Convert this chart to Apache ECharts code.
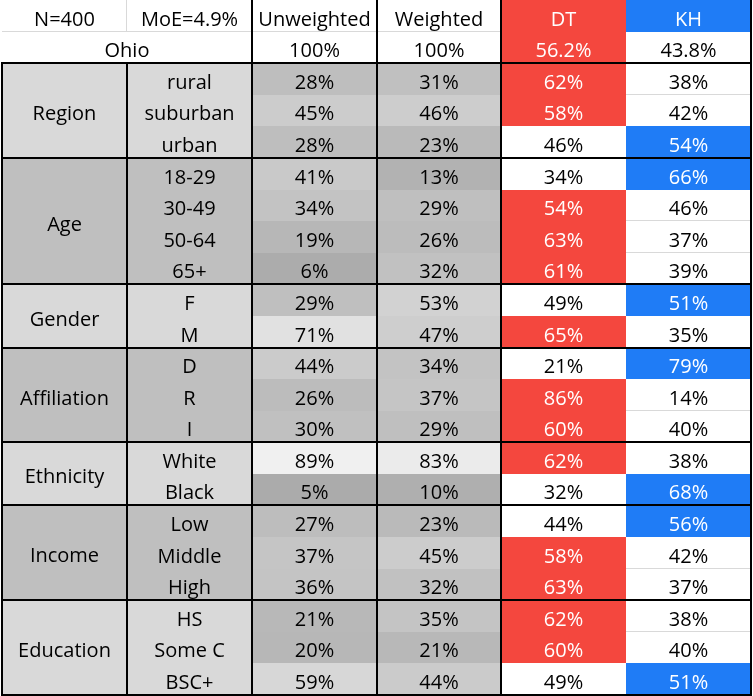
<!DOCTYPE html>
<html><head><meta charset="utf-8">
<script src="https://cdn.jsdelivr.net/npm/echarts@6/dist/echarts.min.js"></script>
<style>html,body{margin:0;padding:0;background:#fff}#c{width:753px;height:696px}</style>
</head><body><div id="c"></div><script>
// ---- data ----
const headerTop = ['N=400', 'MoE=4.9%', 'Unweighted', 'Weighted', 'DT', 'KH'];
const stateName = 'Ohio';
const totals = [100, 100, 56.2, 43.8];
const groups = ['Region', 'Age', 'Gender', 'Affiliation', 'Ethnicity', 'Income', 'Education'];
const subgroups = [
  ['rural', 'suburban', 'urban'],
  ['18-29', '30-49', '50-64', '65+'],
  ['F', 'M'],
  ['D', 'R', 'I'],
  ['White', 'Black'],
  ['Low', 'Middle', 'High'],
  ['HS', 'Some C', 'BSC+']
];
const unweighted = [28, 45, 28, 41, 34, 19, 6, 29, 71, 44, 26, 30, 89, 5, 27, 37, 36, 21, 20, 59];
const weighted   = [31, 46, 23, 13, 29, 26, 32, 53, 47, 34, 37, 29, 83, 10, 23, 45, 32, 35, 21, 44];
const dt         = [62, 58, 46, 34, 54, 63, 61, 49, 65, 21, 86, 60, 62, 32, 44, 58, 63, 62, 60, 49];
const kh         = [38, 42, 54, 66, 46, 37, 39, 51, 35, 79, 14, 40, 38, 68, 56, 42, 37, 38, 40, 51];

// ---- styles ----
const RED = '#F4473E', BLUE = '#1F7CF6', LIGHT = '#D9D9D9', DARK = '#BFBFBF', GRID = '#D9D9D9';
const FONT = '"Open Sans", "Noto Sans", sans-serif';
const FS = 20, TY = 4;

const nCols = 6;
const nRows = 2 + unweighted.length;
const fmt = v => (Number.isInteger(v) ? v : v.toFixed(1)) + '%';

// ---- build cell list ----
const cells = [];
headerTop.forEach((t, c) => {
  let fill = '#fff', color = '#000';
  if (c === 4) { fill = RED; color = '#fff'; }
  if (c === 5) { fill = BLUE; color = '#fff'; }
  cells.push({col: c, row: 0, cs: 1, rs: 1, fill, color, text: t, bottomGrid: c < 4, rightGrid: c === 0});
});
cells.push({col: 0, row: 1, cs: 2, rs: 1, fill: '#fff', color: '#000', text: stateName});
cells.push({col: 2, row: 1, cs: 1, rs: 1, fill: '#fff', color: '#000', text: fmt(totals[0])});
cells.push({col: 3, row: 1, cs: 1, rs: 1, fill: '#fff', color: '#000', text: fmt(totals[1])});
cells.push({col: 4, row: 1, cs: 1, rs: 1, fill: totals[2] > totals[3] ? RED : '#fff', color: totals[2] > totals[3] ? '#fff' : '#000', text: fmt(totals[2])});
cells.push({col: 5, row: 1, cs: 1, rs: 1, fill: totals[3] > totals[2] ? BLUE : '#fff', color: totals[3] > totals[2] ? '#fff' : '#000', text: fmt(totals[3])});

const groupEnds = [2];
let r = 2, idx = 0;
groups.forEach((g, gi) => {
  const subs = subgroups[gi];
  const fill = gi % 2 === 0 ? LIGHT : DARK;
  cells.push({col: 0, row: r, cs: 1, rs: subs.length, fill, color: '#000', text: g});
  subs.forEach((s, si) => {
    const row = r + si, i = idx + si;
    const last = si === subs.length - 1;
    cells.push({col: 1, row, cs: 1, rs: 1, fill, color: '#000', text: s});
    const dtWin = dt[i] > kh[i];
    const nextDtWhite = !last && !(dt[i + 1] > kh[i + 1]);
    const nextKhWhite = !last && !(kh[i + 1] > dt[i + 1]);
    cells.push({col: 4, row, cs: 1, rs: 1, fill: dtWin ? RED : '#fff', color: dtWin ? '#fff' : '#000', text: dt[i] + '%', bottomGrid: !dtWin && nextDtWhite});
    cells.push({col: 5, row, cs: 1, rs: 1, fill: !dtWin ? BLUE : '#fff', color: !dtWin ? '#fff' : '#000', text: kh[i] + '%', bottomGrid: dtWin && nextKhWhite});
  });
  r += subs.length; idx += subs.length;
  groupEnds.push(r);
});

const heatData = [];
unweighted.forEach((v, i) => heatData.push([2, i + 2, v]));
weighted.forEach((v, i) => heatData.push([3, i + 2, v]));

const borders = [];
groupEnds.forEach(b => borders.push({h: true, at: b, from: 0, to: nCols}));
[2, 3, 4, 6].forEach(c => borders.push({h: false, at: c, from: 0, to: nRows}));
[0, 1].forEach(c => borders.push({h: false, at: c, from: 2, to: nRows}));

// ---- geometry helpers (through axes) ----
function edgeX(api, b) {
  const s = api.size([1, 1])[0];
  if (b < nCols) return Math.round(api.coord([b, 0])[0] - s / 2);
  return Math.round(api.coord([nCols - 1, 0])[0] + s / 2);
}
function edgeY(api, b) {
  const s = api.size([1, 1])[1];
  if (b < nRows) return Math.round(api.coord([0, b])[1] - s / 2);
  return Math.round(api.coord([0, nRows - 1])[1] + s / 2);
}
function rectEl(x0, y0, x1, y1, fill) {
  return {type: 'rect', shape: {x: x0, y: y0, width: x1 - x0, height: y1 - y0}, style: {fill}};
}
function textEl(text, x, y, color) {
  return {type: 'text', style: {text, x, y: y + TY, align: 'center', verticalAlign: 'middle',
    fill: color, font: FS + 'px ' + FONT}};
}

const chart = echarts.init(document.getElementById('c'));
chart.setOption({
  animation: false,
  grid: {left: 2, top: 0, width: 749, height: 695},
  xAxis: {type: 'category', data: headerTop.map((_, i) => 'c' + i), show: false},
  yAxis: {type: 'category', data: Array.from({length: nRows}, (_, i) => 'r' + i), inverse: true, show: false},
  visualMap: {show: false, seriesIndex: 1, dimension: 2, min: 5, max: 89, inRange: {color: ['#ABABAB', '#F0F0F0']}},
  series: [
    {
      type: 'custom', z: 1, silent: true,
      data: cells.map((c, i) => [c.col, c.row, i]),
      renderItem: (params, api) => {
        const c = cells[api.value(2)];
        const x0 = edgeX(api, c.col), x1 = edgeX(api, c.col + c.cs);
        const y0 = edgeY(api, c.row), y1 = edgeY(api, c.row + c.rs);
        const children = [rectEl(x0, y0, x1, y1, c.fill)];
        if (c.bottomGrid) children.push({type: 'line', shape: {x1: x0, y1: y1 - 0.5, x2: x1, y2: y1 - 0.5}, style: {stroke: GRID, lineWidth: 1}});
        if (c.rightGrid) children.push({type: 'line', shape: {x1: x1 - 0.5, y1: y0, x2: x1 - 0.5, y2: y1}, style: {stroke: GRID, lineWidth: 1}});
        children.push(textEl(c.text, (x0 + x1) / 2, (y0 + y1) / 2, c.color));
        return {type: 'group', children};
      }
    },
    {
      type: 'custom', z: 2, silent: true,
      data: heatData,
      renderItem: (params, api) => {
        const col = api.value(0), row = api.value(1);
        const x0 = edgeX(api, col), x1 = edgeX(api, col + 1);
        const y0 = edgeY(api, row), y1 = edgeY(api, row + 1);
        return {type: 'group', children: [
          rectEl(x0, y0, x1, y1, api.visual('color')),
          textEl(api.value(2) + '%', (x0 + x1) / 2, (y0 + y1) / 2, '#000')
        ]};
      }
    },
    {
      type: 'custom', z: 5, silent: true,
      data: borders.map((b, i) => [0, 0, i]),
      renderItem: (params, api) => {
        const b = borders[api.value(2)];
        let shape;
        if (b.h) {
          const y = edgeY(api, b.at);
          shape = {x1: edgeX(api, b.from) - 1, y1: y, x2: edgeX(api, b.to) + 1, y2: y};
        } else {
          const x = edgeX(api, b.at);
          shape = {x1: x, y1: edgeY(api, b.from), x2: x, y2: edgeY(api, b.to) + 1};
        }
        return {type: 'line', shape, style: {stroke: '#000', lineWidth: 2}};
      }
    }
  ]
});
</script></body></html>
